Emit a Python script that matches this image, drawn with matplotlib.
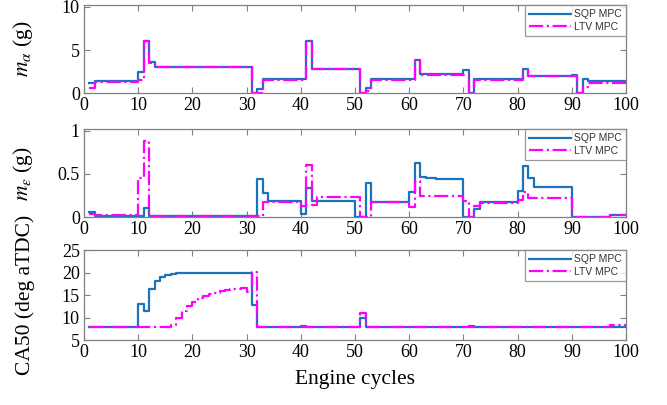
import matplotlib
matplotlib.use("Agg")
import matplotlib.pyplot as plt

# step data: (cycle where the value starts, value); each step holds until the next
sqp_ma_cyc = [1, 2, 10, 11, 12, 13, 31, 32, 33, 41, 42, 51, 52, 53, 61, 62, 70, 71, 72, 81, 82, 90, 91, 92, 93]
sqp_ma_val = [1.2, 1.45, 2.5, 6.1, 3.6, 3.05, 0.0, 0.5, 1.6, 6.1, 2.85, 0.0, 0.6, 1.6, 3.9, 2.2, 2.65, 0.0, 1.6, 2.75, 2.0, 2.1, 0.0, 1.7, 1.45]
ltv_ma_cyc = [1, 2, 10, 11, 12, 13, 31, 33, 41, 42, 51, 52, 53, 61, 62, 71, 72, 81, 82, 91, 92, 93]
ltv_ma_val = [0.65, 1.3, 1.5, 6.1, 3.5, 3.0, 0.0, 1.55, 6.1, 2.8, 0.0, 0.3, 1.55, 3.9, 2.1, 0.0, 1.55, 2.7, 1.95, 0.0, 0.7, 1.2]

sqp_me_cyc = [1, 2, 11, 12, 32, 33, 34, 40, 41, 42, 50, 52, 53, 60, 61, 62, 63, 65, 70, 72, 73, 80, 81, 82, 83, 90, 97]
sqp_me_val = [0.06, 0.01, 0.1, 0.01, 0.44, 0.28, 0.19, 0.03, 0.34, 0.19, 0.0, 0.39, 0.17, 0.29, 0.63, 0.47, 0.45, 0.44, 0.0, 0.09, 0.17, 0.3, 0.59, 0.45, 0.35, 0.0, 0.02]
ltv_me_cyc = [1, 2, 10, 11, 12, 33, 40, 41, 42, 43, 51, 53, 60, 61, 62, 70, 71, 72, 73, 80, 81, 82, 90, 97]
ltv_me_val = [0.04, 0.02, 0.45, 0.88, 0.01, 0.18, 0.13, 0.61, 0.14, 0.23, 0.0, 0.18, 0.12, 0.42, 0.24, 0.19, 0.0, 0.13, 0.16, 0.2, 0.29, 0.22, 0.0, 0.02]

sqp_ca_cyc = [1, 10, 11, 12, 13, 14, 15, 16, 17, 31, 32, 40, 41, 51, 52, 71, 72]
sqp_ca_val = [7.9, 13.0, 11.5, 16.5, 18.2, 19.0, 19.5, 19.8, 20.0, 12.8, 7.9, 8.1, 7.9, 9.9, 7.9, 8.1, 7.9]
ltv_ca_cyc = [1, 16, 17, 18, 19, 20, 21, 22, 23, 24, 25, 26, 27, 28, 29, 30, 31, 32, 51, 52, 97]
ltv_ca_val = [7.9, 8.3, 9.9, 11.5, 12.6, 13.6, 14.3, 14.9, 15.3, 15.6, 15.9, 16.1, 16.3, 16.4, 16.6, 15.8, 20.2, 7.9, 11.0, 7.9, 8.3]

last_cycle = 100
blue = "#1a73bd"
magenta = "#ff00ff"
spine_gray = "#808080"

plt.rcParams["font.family"] = "Liberation Serif"
plt.rcParams["mathtext.fontset"] = "stix"

fig = plt.figure(figsize=(6.67, 4.05), dpi=100)
left, width = 0.126, 0.8126
ax1 = fig.add_axes([left, 0.770, width, 0.217])
ax2 = fig.add_axes([left, 0.464, width, 0.217])
ax3 = fig.add_axes([left, 0.160, width, 0.222])


def draw(ax, cyc, val, **kw):
    xs = list(cyc) + [last_cycle]
    ys = list(val) + [val[-1]]
    ax.plot(xs, ys, drawstyle="steps-post", **kw)


panels = [
    (ax1, sqp_ma_cyc, sqp_ma_val, ltv_ma_cyc, ltv_ma_val, (0, 10.2), [0, 5, 10], "$m_{\\alpha}$ (g)"),
    (ax2, sqp_me_cyc, sqp_me_val, ltv_me_cyc, ltv_me_val, (0, 1.02), [0, 0.5, 1], "$m_{\\varepsilon}$ (g)"),
    (ax3, sqp_ca_cyc, sqp_ca_val, ltv_ca_cyc, ltv_ca_val, (5, 25), [5, 10, 15, 20, 25], "CA50 (deg aTDC)"),
]

for ax, sc, sv, lc, lv, ylim, yticks, ylabel in panels:
    draw(ax, sc, sv, color=blue, lw=1.6, label="SQP MPC")
    draw(ax, lc, lv, color=magenta, lw=1.6, ls="-.", label="LTV MPC")
    ax.set_xlim(0, 100)
    ax.set_ylim(*ylim)
    ax.set_xticks(range(0, 101, 10))
    ax.set_yticks(yticks)
    ax.set_yticklabels([f"{t:g}" for t in yticks])
    ax.tick_params(direction="in", top=True, right=True, length=4, width=0.8,
                   color=spine_gray, labelsize=13, pad=3)
    for s in ax.spines.values():
        s.set_color(spine_gray)
        s.set_linewidth(0.9)
    ax.set_ylabel(ylabel, fontsize=15.5)
    ax.yaxis.set_label_coords(-0.09, 0.5)
    leg = ax.legend(loc="upper right", borderaxespad=0, fancybox=False,
                    handlelength=4.0, handletextpad=0.3, borderpad=0.4,
                    labelspacing=0.25, prop={"family": "Liberation Sans", "size": 7.5})
    leg.get_frame().set_edgecolor(spine_gray)
    leg.get_frame().set_linewidth(0.9)
    for t in leg.get_texts():
        t.set_color("#333333")

ax3.set_xlabel("Engine cycles", fontsize=15.5, labelpad=6)

fig.savefig("out.png", dpi=100)
